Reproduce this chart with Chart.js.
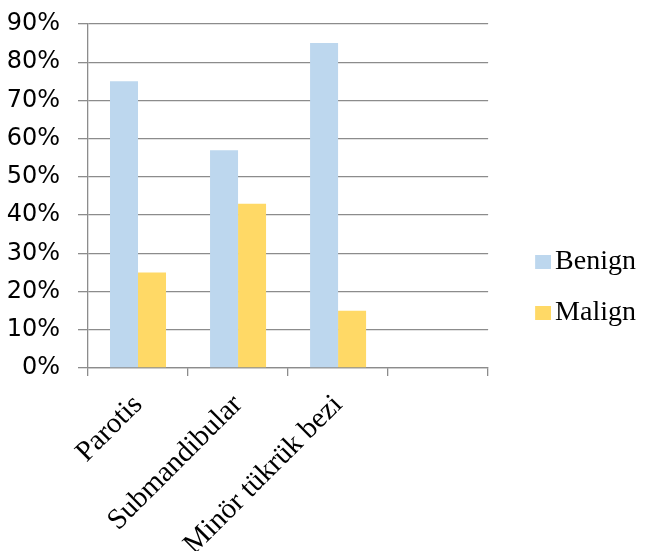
<!DOCTYPE html>
<html>
<head>
<meta charset="utf-8">
<script src="https://cdn.jsdelivr.net/npm/chart.js@4/dist/chart.umd.min.js"></script>
<style>
html,body{margin:0;padding:0;background:#fff;}
canvas{display:block;}
</style>
</head>
<body>
<canvas id="c" width="646" height="559"></canvas>
<script>
const categories = ['Parotis', 'Submandibular', 'Minör tükrük bezi', ''];
const benign = [75, 57, 85, null];
const malign = [25, 43, 15, null];
const seriesNames = ['Benign', 'Malign'];
const seriesColors = ['#BDD7EE', '#FFD966'];
const yTicks = [0, 10, 20, 30, 40, 50, 60, 70, 80, 90];

const gridColor = '#8c8c8c';

// legend swatch: a small square drawn on the right part of a transparent image
function makeSwatch(color) {
  const cv = document.createElement('canvas');
  cv.width = 50; cv.height = 14;
  const g = cv.getContext('2d');
  g.fillStyle = color;
  g.fillRect(34, 0, 16, 14);
  return cv;
}

new Chart(document.getElementById('c'), {
  type: 'bar',
  data: {
    labels: categories,
    datasets: [
      { label: seriesNames[0], data: benign, backgroundColor: seriesColors[0], borderWidth: 0 },
      { label: seriesNames[1], data: malign, backgroundColor: seriesColors[1], borderWidth: 0 }
    ]
  },
  options: {
    responsive: false,
    animation: false,
    devicePixelRatio: 1,
    datasets: { bar: { categoryPercentage: 0.56, barPercentage: 1.0 } },
    layout: { padding: { top: 24, left: 0, right: 0, bottom: 8 } },
    plugins: {
      tooltip: { enabled: false },
      legend: {
        position: 'right',
        align: 'center',
        labels: {
          font: { family: 'Liberation Serif', size: 28 },
          color: '#000',
          usePointStyle: true,
          pointStyleWidth: 30,
          boxHeight: 14,
          padding: 23,
          generateLabels: chart => {
            const items = Chart.defaults.plugins.legend.labels.generateLabels(chart);
            items.forEach((it, i) => { it.pointStyle = makeSwatch(seriesColors[i]); });
            return items;
          }
        }
      }
    },
    scales: {
      x: {
        offset: true,
        grid: { display: true, drawOnChartArea: false, offset: true, tickLength: 8, color: gridColor, lineWidth: 1.3 },
        border: { display: true, color: gridColor, width: 1.3 },
        ticks: {
          font: { family: 'Liberation Serif', size: 29 },
          color: '#000',
          minRotation: 45,
          maxRotation: 45,
          autoSkip: false,
          padding: 12
        },
        afterFit: s => { s.height = 183; }
      },
      y: {
        min: 0,
        max: 90,
        afterBuildTicks: s => { s.ticks = yTicks.map(v => ({ value: v })); },
        grid: { color: gridColor, lineWidth: 1.3, tickLength: 10 },
        border: { display: true, color: gridColor, width: 1.3 },
        ticks: {
          font: { family: 'DejaVu Sans', size: 24, lineHeight: 0.5 },
          color: '#000',
          padding: 18,
          callback: v => v + '%'
        },
        afterFit: s => { s.width = 88; }
      }
    }
  }
});
</script>
</body>
</html>
